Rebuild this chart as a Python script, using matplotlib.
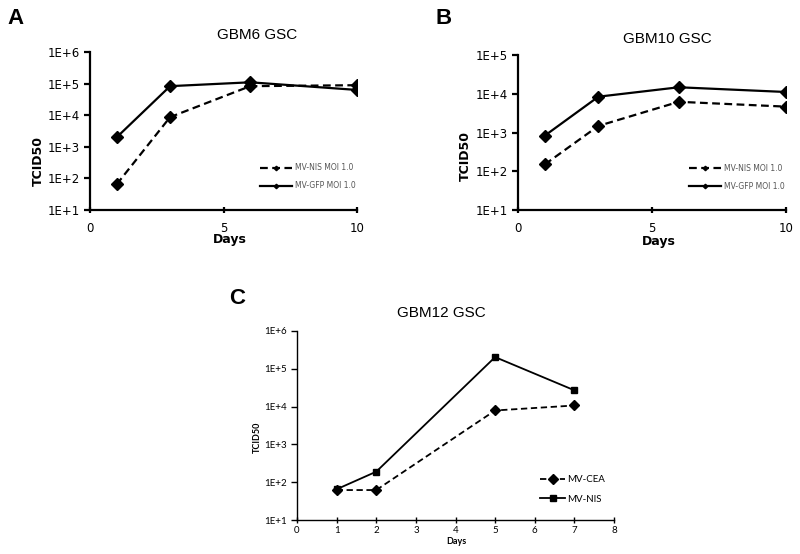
import matplotlib
matplotlib.use('Agg')
import matplotlib.pyplot as plt

# --- data -------------------------------------------------------------------
days_ab = [1, 3, 6, 10]

# panel A: GBM6 GSC
gbm6_nis = [65, 8700, 83000, 89000]
gbm6_gfp = [2000, 83000, 110000, 63000]

# panel B: GBM10 GSC
gbm10_nis = [150, 1480, 6200, 4650]
gbm10_gfp = [830, 8400, 14700, 11100]

# panel C: GBM12 GSC
days_c = [1, 2, 5, 7]
gbm12_cea = [62, 62, 7900, 10700]
gbm12_nis = [65, 190, 204000, 27000]

ticks_a = [1e1, 1e2, 1e3, 1e4, 1e5, 1e6]
ticks_b = [1e1, 1e2, 1e3, 1e4, 1e5]
labels_a = ['1E+1', '1E+2', '1E+3', '1E+4', '1E+5', '1E+6']
labels_b = ['1E+1', '1E+2', '1E+3', '1E+4', '1E+5']

W, H = 800, 554
fig = plt.figure(figsize=(W / 100, H / 100), dpi=100)


def px_axes(left, top, right, bottom):
    return fig.add_axes([left / W, 1 - bottom / H, (right - left) / W, (bottom - top) / H])


def style_axes(ax, lw, xticks, yticks, ylabels, tick_font, tick_size, xpad=6):
    ax.set_yscale('log')
    ax.minorticks_off()
    font = {'family': tick_font, 'size': tick_size}
    ax.set_yticks(yticks)
    ax.set_yticklabels(ylabels, fontdict=font)
    ax.set_xticks(xticks)
    ax.set_xticklabels([str(x) for x in xticks], fontdict=font)
    ax.set_ylim(yticks[0], yticks[-1])
    for s in ['top', 'right']:
        ax.spines[s].set_visible(False)
    for s in ['left', 'bottom']:
        ax.spines[s].set_linewidth(lw)
    ax.tick_params(axis='y', direction='out', length=4, width=lw, pad=3)
    ax.tick_params(axis='x', direction='inout', length=5, width=lw, pad=xpad)


def panel_ab(ax, nis, gfp, ticks, labels):
    ax.plot(days_ab, nis, color='black', lw=1.6, ls=(0, (3.5, 2)),
            marker='D', ms=6.5, label='MV-NIS MOI 1.0')
    ax.plot(days_ab, gfp, color='black', lw=1.6, ls='-',
            marker='D', ms=6.5, label='MV-GFP MOI 1.0')
    ax.set_xlim(0, 10)
    style_axes(ax, 1.6, [0, 5, 10], ticks, labels, 'DejaVu Sans', 8.5)
    leg = ax.legend(loc='lower right', bbox_to_anchor=(1.02, 0.08), frameon=False,
                    fontsize=5.5, handlelength=4.2, handletextpad=0.3,
                    labelspacing=1.2, markerscale=0.35)
    for t in leg.get_texts():
        t.set_color('#555555')


# panel A
ax_a = px_axes(90, 52, 357, 210)
panel_ab(ax_a, gbm6_nis, gbm6_gfp, ticks_a, labels_a)

# panel B
ax_b = px_axes(518, 55, 786, 210)
panel_ab(ax_b, gbm10_nis, gbm10_gfp, ticks_b, labels_b)

# panel C
ax_c = px_axes(297, 331, 614, 520)
ax_c.plot(days_c, gbm12_cea, color='black', lw=1.3, ls=(0, (3.5, 2)),
          marker='D', ms=5, label='MV-CEA')
ax_c.plot(days_c, gbm12_nis, color='black', lw=1.3, ls='-',
          marker='s', ms=5, label='MV-NIS')
ax_c.set_xlim(0, 8)
style_axes(ax_c, 1.0, list(range(0, 9)), ticks_a, labels_a, 'Lato', 7, xpad=2)
ax_c.legend(loc='lower right', bbox_to_anchor=(1.0, 0.04), frameon=False,
            prop={'family': 'Lato', 'size': 7}, handlelength=2.6,
            handletextpad=0.2, labelspacing=1.1)

# titles, axis labels and panel letters
fig.text(257 / W, 1 - 35 / H, 'GBM6 GSC', ha='center', va='center',
         family='Liberation Sans', fontsize=11)
fig.text(667 / W, 1 - 39 / H, 'GBM10 GSC', ha='center', va='center',
         family='Liberation Sans', fontsize=11)
fig.text(441 / W, 1 - 313 / H, 'GBM12 GSC', ha='center', va='center',
         family='Liberation Sans', fontsize=11)

fig.text(38 / W, 1 - 161 / H, 'TCID50', rotation=90, ha='center', va='center',
         fontsize=9, fontweight='bold')
fig.text(465 / W, 1 - 156 / H, 'TCID50', rotation=90, ha='center', va='center',
         fontsize=9, fontweight='bold')
fig.text(257 / W, 1 - 437 / H, 'TCID50', rotation=90, ha='center', va='center',
         family='Lato', fontsize=6.5, fontweight='bold')

fig.text(230 / W, 1 - 239 / H, 'Days', ha='center', va='center',
         fontsize=9, fontweight='bold')
fig.text(659 / W, 1 - 241 / H, 'Days', ha='center', va='center',
         fontsize=9, fontweight='bold')
fig.text(456 / W, 1 - 542 / H, 'Days', ha='center', va='center',
         family='Lato', fontsize=6.5, fontweight='bold')

for letter, x, y in [('A', 16, 18), ('B', 444, 18), ('C', 237, 299)]:
    fig.text(x / W, 1 - y / H, letter, ha='center', va='center',
             family='Liberation Sans', fontsize=16, fontweight='bold')

fig.savefig('out.png', dpi=100)
